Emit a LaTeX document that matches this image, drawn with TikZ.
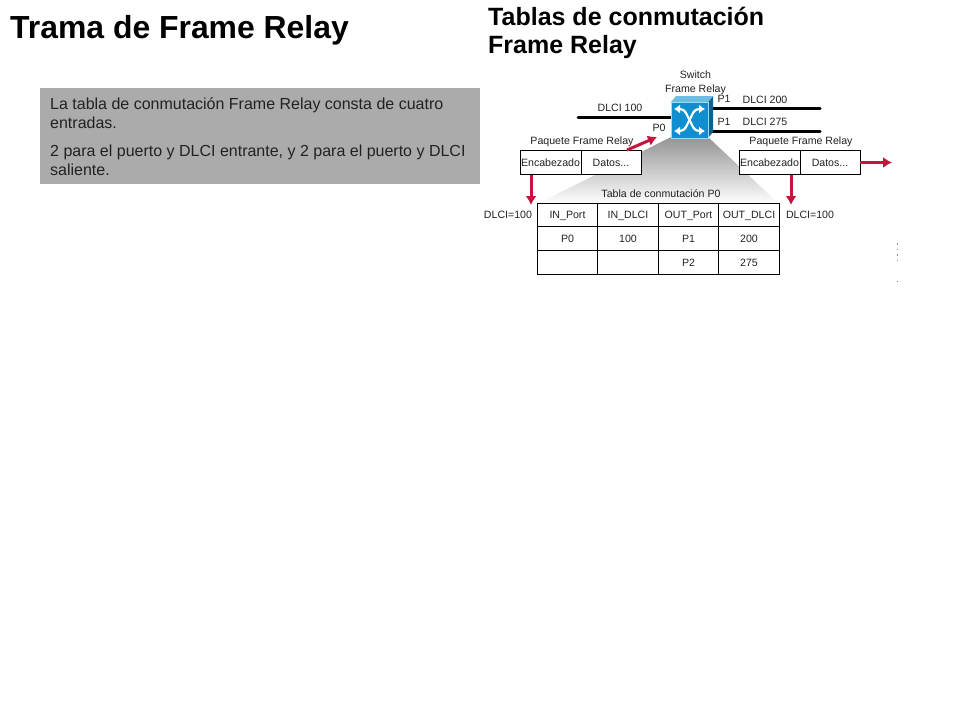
\documentclass[tikz,border=0pt]{standalone}
\usepackage{fontspec}
\setmainfont{Liberation Sans}
\usetikzlibrary{arrows.meta}
\definecolor{crim}{HTML}{C4153F}
\definecolor{swblue}{HTML}{0F8FCF}
\definecolor{ink}{HTML}{222222}
\tikzset{
 x=1pt,y=-1pt,
 small/.style={font=\fontsize{10.6}{12}\selectfont,text=ink,inner sep=0pt,text height=7.6pt,text depth=0pt},
 cell/.style={draw=black,line width=0.9pt,fill=white,small,inner sep=0pt,anchor=center},
 wire/.style={line width=3pt,black,line cap=round},
 redarrow/.style={line width=3pt,crim,-{Latex[length=9pt,width=11pt]}},
 arrowline/.style={line width=2.2pt,white,{Latex[length=6pt,width=9pt]}-{Latex[length=6pt,width=9pt]}},
}
\newcommand{\tcell}[5]{\node[cell,minimum width=#3,minimum height=#4] (#1) at (#2) {#5};}
\begin{document}
\begin{tikzpicture}
\useasboundingbox (0,0) rectangle (960,720);
\fill[white] (0,0) rectangle (960,720);
\node[anchor=base west,inner sep=0pt,font=\fontsize{31.9}{34}\selectfont\bfseries] (title) at (10,38) {Trama de Frame Relay};
\node[anchor=base west,inner sep=0pt,font=\fontsize{25}{27}\selectfont\bfseries] (sub1) at (488,25) {Tablas de conmutación};
\node[anchor=base west,inner sep=0pt,font=\fontsize{25}{27}\selectfont\bfseries] (sub2) at (488,53) {Frame Relay};
% grey box
\node[anchor=north west,fill=black!33,minimum width=440pt,minimum height=96pt,inner sep=0pt] (panel) at (40,88) {};
\begin{scope}[every node/.style={anchor=base west,inner sep=0pt,font=\fontsize{16}{18}\selectfont,text=ink}]
\node (l1) at (50,109) {La tabla de conmutación Frame Relay consta de cuatro};
\node (l2) at (50,128) {entradas.};
\node (l3) at (50,156) {2 para el puerto y DLCI entrante, y 2 para el puerto y DLCI};
\node (l4) at (50,175) {saliente.};
\end{scope}
% funnel
\shade[top color=black!42,bottom color=white] (671,137) -- (708,137) -- (779,204) -- (537,204) -- cycle;
% switch
\coordinate (wl) at (578,117);
\coordinate (wr1) at (820,108);
\coordinate (wr2) at (820,131);
\coordinate (swL) at (671,117);
\coordinate (swR1) at (708,108);
\coordinate (swR2) at (708,131);
\draw[wire] (wl) -- (swL);
\draw[wire] (swR1) -- (wr1);
\draw[wire] (swR2) -- (wr2);
\fill[swblue!70!black] (708,102) -- (713,96) -- (713,132) -- (708,138) -- cycle;
\fill[swblue!60!white] (671,102) -- (676,96) -- (713,96) -- (708,102) -- cycle;
\node[fill=swblue,draw=cyan!40!white,line width=0.7pt,minimum width=37pt,minimum height=36pt,inner sep=0pt] (sw) at (689.5,120) {};
\coordinate (a1) at (674,109);
\coordinate (a2) at (705,109);
\coordinate (a3) at (674,131);
\coordinate (a4) at (705,131);
\draw[arrowline,rounded corners=4pt] (a1) -- (684,109) -- (695,131) -- (a4);
\draw[arrowline,rounded corners=4pt] (a3) -- (684,131) -- (695,109) -- (a2);
% labels
\node[small] (swlab1) at (695.5,75) {Switch};
\node[small] (swlab2) at (695.5,88.5) {Frame Relay};
\node[small] (d100) at (620,108) {DLCI 100};
\node[small] (p0) at (659,127.5) {P0};
\node[small] (p1a) at (724,99) {P1};
\node[small] (d200) at (765,99.5) {DLCI 200};
\node[small] (p1b) at (724,122) {P1};
\node[small] (d275) at (765,122) {DLCI 275};
\node[small] (pk1) at (582,140.5) {Paquete Frame Relay};
\node[small] (pk2) at (801,140.5) {Paquete Frame Relay};
% packets
\coordinate (t1) at (657,137);
\coordinate (t2) at (892,162.5);
\coordinate (t3) at (531,205);
\coordinate (t4) at (791,205);
\tcell{e1}{550.5,162.5}{61pt}{24.5pt}{Encabezado}
\tcell{m1}{611,162.5}{60pt}{24.5pt}{Datos...}
\tcell{e2}{769.5,162.5}{61pt}{24.5pt}{Encabezado}
\tcell{m2}{830,162.5}{60pt}{24.5pt}{Datos...}
\draw[redarrow] (627,150) -- (t1);
\draw[redarrow] (m2.east) -- (t2);
\draw[redarrow] (531,175) -- (t3);
\draw[redarrow] (791,175) -- (t4);
% table
\node[small] (ttl) at (661,193.5) {Tabla de conmutación P0};
\node[small] (dl) at (508,215) {DLCI=100};
\node[small] (dr) at (810,215) {DLCI=100};
\tcell{c11}{567.5,215}{60.5pt}{23pt}{IN\_Port}
\tcell{c12}{628,215}{60.5pt}{23pt}{IN\_DLCI}
\tcell{c13}{688.5,215}{60.5pt}{23pt}{OUT\_Port}
\tcell{c14}{749,215}{60.5pt}{23pt}{OUT\_DLCI}
\tcell{c21}{567.5,238.5}{60.5pt}{24pt}{P0}
\tcell{c22}{628,238.5}{60.5pt}{24pt}{100}
\tcell{c23}{688.5,238.5}{60.5pt}{24pt}{P1}
\tcell{c24}{749,238.5}{60.5pt}{24pt}{200}
\tcell{c31}{567.5,262.5}{60.5pt}{24pt}{}
\tcell{c32}{628,262.5}{60.5pt}{24pt}{}
\tcell{c33}{688.5,262.5}{60.5pt}{24pt}{P2}
\tcell{c34}{749,262.5}{60.5pt}{24pt}{275}
% specks
\draw[black!45,line width=0.6pt,dash pattern=on 1.5pt off 4pt] (897,243) -- (897,263);
\fill[black!55] (896.6,281) rectangle (897.4,282);
\end{tikzpicture}
\end{document}
